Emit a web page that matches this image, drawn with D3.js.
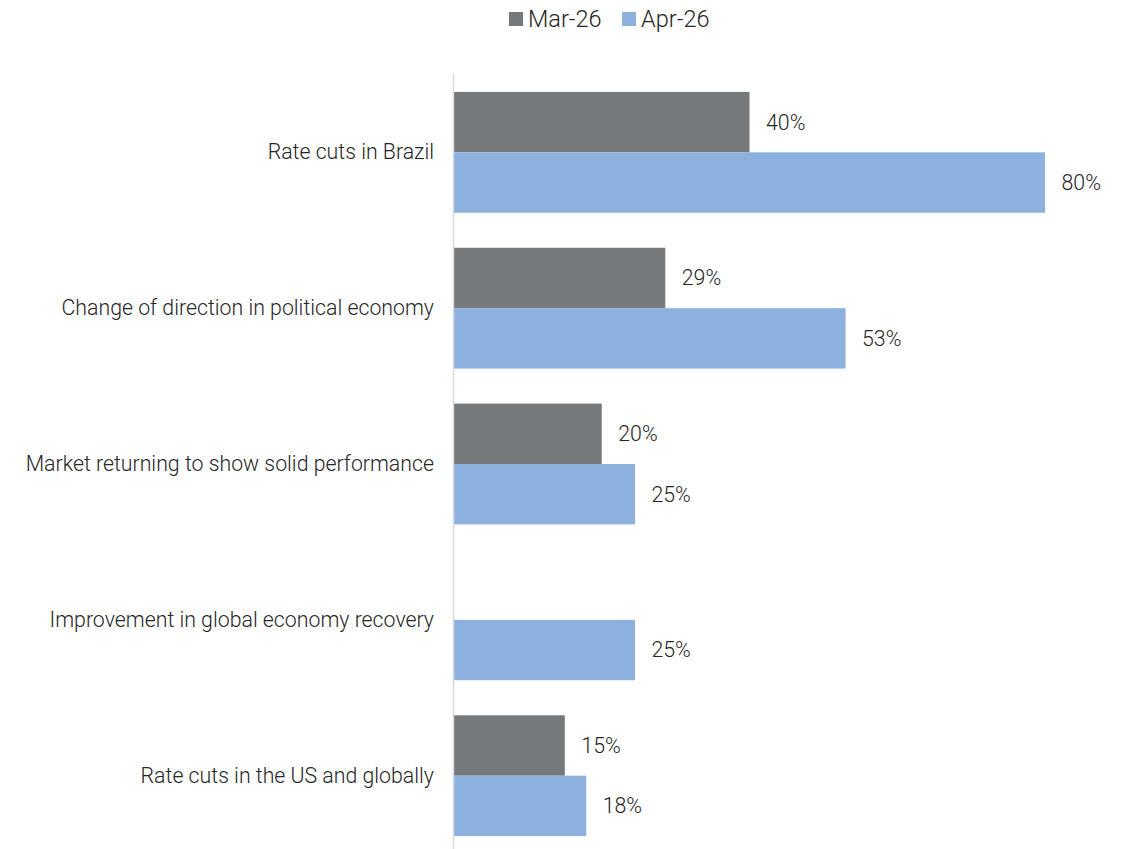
<!DOCTYPE html>
<html>
<head>
<meta charset="utf-8">
<script src="https://cdn.jsdelivr.net/npm/d3@7"></script>
<style>
  body { margin: 0; background: #fff; }
  text { font-family: Roboto, "Open Sans", sans-serif; font-weight: 300; fill: #262626; }
</style>
</head>
<body>
<div id="chart"></div>
<script>
// chart data
var categories = [
  "Rate cuts in Brazil",
  "Change of direction in political economy",
  "Market returning to show solid performance",
  "Improvement in global economy recovery",
  "Rate cuts in the US and globally"
];
var seriesNames = ["Mar-26", "Apr-26"];
var mar26 = [40, 28.6, 20, null, 15];
var apr26 = [80, 53, 24.5, 24.5, 17.9];
var colors = ["#75797b", "#8db1df"];

var width = 1124, height = 849;
var margin = {left: 454, top: 74};

var svg = d3.select("#chart").append("svg")
    .attr("width", width)
    .attr("height", height);

// scales
var x = d3.scaleLinear()
    .domain([0, 80])
    .range([margin.left, 1045]);

var y = d3.scaleBand()
    .domain(categories)
    .range([margin.top, 854])
    .paddingInner(0.225)
    .paddingOuter(0.115);

var y1 = d3.scaleBand()
    .domain(seriesNames)
    .range([0, y.bandwidth()]);

var fmt = function (v) { return Math.round(v) + "%"; };

// rows of data
var rows = categories.map(function (c, i) {
  return {cat: c, values: [
    {name: seriesNames[0], v: mar26[i]},
    {name: seriesNames[1], v: apr26[i]}
  ]};
});

var groups = svg.selectAll(".grp")
    .data(rows)
    .enter().append("g")
    .attr("class", "grp")
    .attr("transform", function (d) { return "translate(0," + y(d.cat) + ")"; });

groups.selectAll("rect")
    .data(function (d) { return d.values.filter(function (e) { return e.v != null; }); })
    .enter().append("rect")
    .attr("x", x(0))
    .attr("y", function (d) { return y1(d.name); })
    .attr("width", function (d) { return x(d.v) - x(0); })
    .attr("height", y1.bandwidth())
    .attr("fill", function (d) { return colors[seriesNames.indexOf(d.name)]; });

groups.selectAll(".val")
    .data(function (d) { return d.values.filter(function (e) { return e.v != null; }); })
    .enter().append("text")
    .attr("class", "val")
    .attr("x", function (d) { return x(d.v) + 16.5; })
    .attr("y", function (d) { return y1(d.name) + y1.bandwidth() / 2; })
    .attr("dy", "0.35em")
    .style("font-size", "21.3px")
    .text(function (d) { return fmt(d.v); });

// category axis
var yAxis = svg.append("g")
    .attr("transform", "translate(" + margin.left + ",0)")
    .call(d3.axisLeft(y).tickSize(0).tickPadding(20));
yAxis.select(".domain").remove();
yAxis.selectAll("text")
    .style("font-size", "21.3px")
    .style("font-family", "Roboto, sans-serif")
    .attr("fill", "#262626");

svg.append("line")
    .attr("x1", margin.left - 0.5).attr("x2", margin.left - 0.5)
    .attr("y1", 73).attr("y2", height)
    .attr("stroke", "#d9d9d9")
    .attr("stroke-width", 1.5);

// legend
var legendX = [509, 622];
var legend = svg.selectAll(".leg")
    .data(seriesNames)
    .enter().append("g")
    .attr("class", "leg")
    .attr("transform", function (d, i) { return "translate(" + legendX[i] + ",12)"; });
legend.append("rect")
    .attr("width", 14).attr("height", 14)
    .attr("fill", function (d, i) { return colors[i]; });
legend.append("text")
    .attr("x", 19).attr("y", 7)
    .attr("dy", "0.36em")
    .style("font-size", "23.5px")
    .text(function (d) { return d; });
</script>
</body>
</html>
